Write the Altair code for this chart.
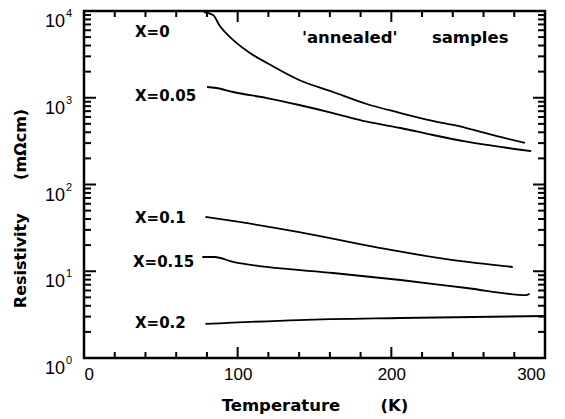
import altair as alt
import pandas as pd

# ---- data ----
t_x0 = [78, 84, 88, 97, 108, 119, 140, 162, 184, 206, 227, 249, 271, 287]
r_x0 = [9730, 9000, 6900, 4640, 3280, 2520, 1600, 1165, 847, 667, 540, 448, 353, 301]

t_x005 = [80, 86, 97, 119, 140, 162, 184, 206, 227, 249, 271, 291]
r_x005 = [1330, 1295, 1165, 993, 825, 667, 530, 448, 372, 312, 271, 243]

t_x01 = [79, 101, 140, 193, 238, 279]
r_x01 = [42.2, 37.0, 28.3, 18.5, 13.6, 11.2]

t_x015 = [77, 85, 97, 119, 162, 206, 249, 288, 290]
r_x015 = [14.6, 14.6, 12.8, 11.2, 9.55, 7.93, 6.41, 5.32, 5.5]

t_x02 = [79, 140, 206, 300]
r_x02 = [2.47, 2.74, 2.89, 3.05]

series_names = ["X=0", "X=0.05", "X=0.1", "X=0.15", "X=0.2"]

label_text = ["X=0", "X=0.05", "X=0.1", "X=0.15", "X=0.2"]
label_t = [33.2, 33.2, 33.2, 31.9, 33.2]
label_r = [5730, 1047, 41.1, 12.8, 2.53]

note_text = ["'annealed'", "samples"]
note_t = [141.8, 226.4]
note_r = [4885, 4885]

x_major = [0, 100, 200, 300]
x_minor = [20, 40, 60, 80, 120, 140, 160, 180, 220, 240, 260, 280]
y_major = [1, 10, 100, 1000, 10000]
y_exp = ["0", "1", "2", "3", "4"]
y_minor = [m * 10 ** k for k in range(4) for m in range(2, 10)]

# ---- tables ----
rows = []
for name, ts, rs in zip(series_names,
                        [t_x0, t_x005, t_x01, t_x015, t_x02],
                        [r_x0, r_x005, r_x01, r_x015, r_x02]):
    for i, (t, r) in enumerate(zip(ts, rs)):
        rows.append({"series": name, "T": t, "rho": r, "order": i})
lines_df = pd.DataFrame(rows)
labels_df = pd.DataFrame({"text": label_text, "T": label_t, "rho": label_r})
notes_df = pd.DataFrame({"text": note_text, "T": note_t, "rho": note_r})
ydec_df = pd.DataFrame({"rho": y_major, "exp": y_exp, "base": ["10"] * len(y_major)})
xmaj_df = pd.DataFrame({"T": x_major})
xmin_df = pd.DataFrame({"T": x_minor})
ymaj_df = pd.DataFrame({"rho": y_major})
ymin_df = pd.DataFrame({"rho": y_minor})

W, H = 461, 347
xs = alt.Scale(domain=[0, 300], nice=False, zero=False)
ys = alt.Scale(type="log", domain=[1, 10000], nice=False)

x_axis = alt.Axis(values=x_major, format="d", labelFont="Liberation Sans", labelFontSize=17,
                  labelColor="black", labelPadding=8, ticks=False, tickSize=0, domain=False,
                  grid=False,
                  title="Temperature\u00a0\u00a0\u00a0\u00a0\u00a0\u00a0\u00a0(K)",
                  titleFont="DejaVu Sans", titleFontWeight="bold", titleFontSize=16.5,
                  titleColor="black", titleY=52, titleBaseline="alphabetic")
y_axis = alt.Axis(labels=False, ticks=False, tickSize=0, domain=False, grid=False,
                  title="Resistivity\u00a0\u00a0\u00a0\u00a0\u00a0\u00a0(m\u03a9cm)",
                  titleFont="DejaVu Sans", titleFontWeight="bold", titleFontSize=16,
                  titleColor="black", titleX=-59, titleY=197, titleBaseline="alphabetic")

X = alt.X("T:Q", scale=xs, axis=x_axis)
Y = alt.Y("rho:Q", scale=ys, axis=y_axis)

lines = alt.Chart(lines_df).mark_line(color="black", strokeWidth=1.8, interpolate="monotone").encode(
    x=X, y=Y, detail="series:N", order="order:Q",
)

labels = alt.Chart(labels_df).mark_text(font="DejaVu Sans", fontWeight="bold", fontSize=15,
                                        align="left", baseline="middle", color="black").encode(
    x=X, y=Y, text="text:N",
)

notes = alt.Chart(notes_df).mark_text(font="DejaVu Sans", fontWeight="bold", fontSize=16.5,
                                      align="left", baseline="middle", color="black").encode(
    x=X, y=Y, text="text:N",
)

ybase = alt.Chart(ydec_df).mark_text(font="Liberation Sans", fontSize=18, align="right",
                                     baseline="middle", dy=11, color="black").encode(
    x=alt.value(-19), y=Y, text="base:N",
)
yexp = alt.Chart(ydec_df).mark_text(font="Liberation Sans", fontSize=11, align="left",
                                    baseline="middle", dy=3, color="black").encode(
    x=alt.value(-18), y=Y, text="exp:N",
)

def xticks(df, length):
    bottom = alt.Chart(df).mark_rule(color="black", strokeWidth=2).encode(
        x=X, y=alt.value(H), y2=alt.value(H - length))
    top = alt.Chart(df).mark_rule(color="black", strokeWidth=2).encode(
        x=X, y=alt.value(0), y2=alt.value(length))
    return [bottom, top]

def yticks(df, length):
    left = alt.Chart(df).mark_rule(color="black", strokeWidth=2).encode(
        y=Y, x=alt.value(0), x2=alt.value(length))
    right = alt.Chart(df).mark_rule(color="black", strokeWidth=2).encode(
        y=Y, x=alt.value(W), x2=alt.value(W - length))
    return [left, right]

layers = [lines, labels, notes, ybase, yexp] + xticks(xmaj_df, 11) + xticks(xmin_df, 6) \
    + yticks(ymaj_df, 12) + yticks(ymin_df, 7)

chart = alt.layer(*layers).properties(
    width=W, height=H,
    autosize=alt.AutoSizeParams(type="none"),
    padding={"left": 84, "top": 11, "right": 20, "bottom": 61},
    background="white",
).configure_view(stroke="black", strokeWidth=2.5)

chart.save("out.html", embed_options={"renderer": "svg", "actions": False})
